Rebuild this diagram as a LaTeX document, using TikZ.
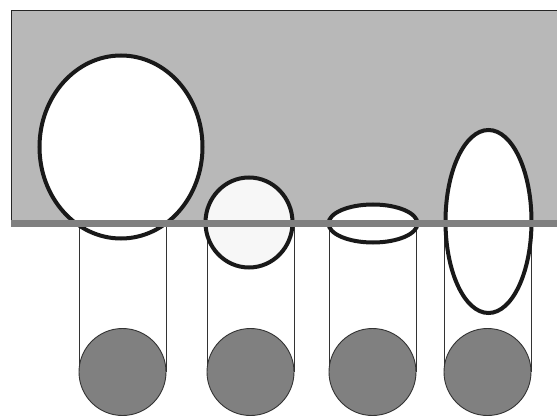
\documentclass[tikz,border=0pt]{standalone}
\begin{document}
\begin{tikzpicture}[x=1pt,y=-1pt,
  bubble/.style={draw=black!90,line width=4pt,fill=white},
  ball/.style={draw=black!80,line width=0.9pt,fill=black!50},
  guide/.style={draw=black!80,line width=0.7pt}]
\useasboundingbox (0,0) rectangle (557,417);
\fill[white] (0,0) rectangle (557,417);
% gray medium
\fill[black!28] (11,10) rectangle (557,223);
\draw[black!85,line width=0.9pt] (11,223) -- (11,10) -- (557,10);
% guide lines
\draw[guide] (79,226) -- (79,372);
\draw[guide] (166,226) -- (166,372);
\draw[guide] (207,226) -- (207,372);
\draw[guide] (294,226) -- (294,372);
\draw[guide] (329,226) -- (329,372);
\draw[guide] (416,226) -- (416,372);
\draw[guide] (444,226) -- (444,372);
\draw[guide] (531,226) -- (531,372);
% balls
\draw[ball] (122.5,372) circle (43.5);
\draw[ball] (250.5,372) circle (43.5);
\draw[ball] (372.5,372) circle (43.5);
\draw[ball] (487.5,372) circle (43.5);
% bubbles
\draw[bubble] (121,147) ellipse (81.5 and 91.5);
\draw[bubble,fill=black!3] (249,222.5) ellipse (43.5 and 45);
\draw[bubble] (373,223.5) ellipse (44.5 and 19);
\draw[bubble] (488.5,221.5) ellipse (43 and 91.5);
% band
\fill[black!50] (11,220) rectangle (557,227);
\end{tikzpicture}
\end{document}
